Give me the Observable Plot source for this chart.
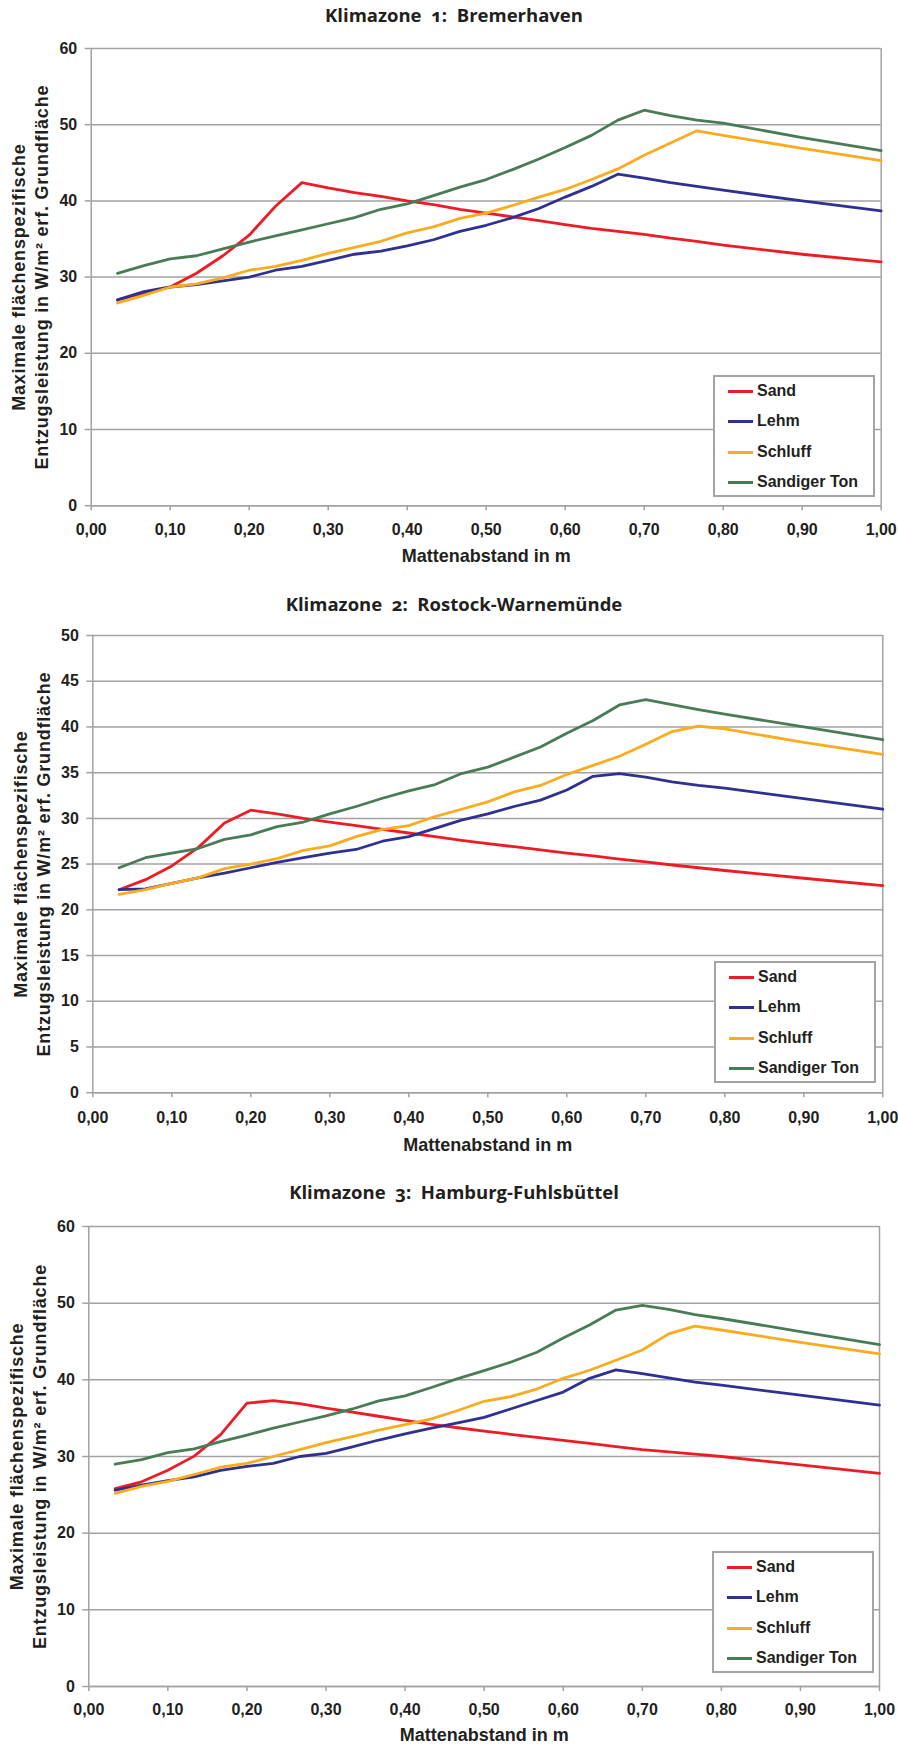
<!DOCTYPE html>
<html>
<head>
<meta charset="utf-8">
<script src="https://cdn.jsdelivr.net/npm/d3@7"></script>
<script src="https://cdn.jsdelivr.net/npm/@observablehq/plot@0.6"></script>
<style>
  body { margin: 0; background: #ffffff; }
  #page { position: relative; width: 898px; height: 1745px; overflow: hidden; font-family: "Liberation Sans", Arial, sans-serif; }
  .title { position: absolute; left: 0; width: 908px; text-align: center; font-family: "Open Sans", sans-serif; font-weight: 700; font-size: 18.5px; line-height: 24px; color: #231f20; white-space: pre; font-variant-numeric: oldstyle-nums; }
  .chart { position: absolute; left: 0; }
  .legend { position: absolute; box-sizing: border-box; width: 162px; height: 122px; border: 2px solid #a4a4a4; background: #ffffff; }
  .legend .row { position: absolute; left: 0; height: 20px; width: 158px; }
  .legend .swatch { position: absolute; left: 13px; top: 9px; width: 25px; height: 3px; }
  .legend .lab { position: absolute; left: 42px; top: 0; line-height: 20px; font-weight: bold; font-size: 16px; color: #231f20; white-space: nowrap; }
</style>
</head>
<body>
<div id="page"></div>
<script>
// ---------- data ----------
const soils = ["Sand", "Lehm", "Schluff", "Sandiger Ton"];
const soilColors = ["#ed1c24", "#2e3192", "#fbab1f", "#4a7b57"];

const xValues = [0.0333, 0.0667, 0.1, 0.1333, 0.1667, 0.2, 0.2333, 0.2667, 0.3, 0.3333, 0.3667, 0.4, 0.4333,
                 0.4667, 0.5, 0.5333, 0.5667, 0.6, 0.6333, 0.6667, 0.7, 0.7333, 0.7667, 0.8, 0.9, 1.0];

const xTicks = [0, 0.1, 0.2, 0.3, 0.4, 0.5, 0.6, 0.7, 0.8, 0.9, 1.0];
const yTicks60 = [0, 10, 20, 30, 40, 50, 60];
const yTicks50 = [0, 5, 10, 15, 20, 25, 30, 35, 40, 45, 50];

const chartTitles = ["Klimazone  1:  Bremerhaven", "Klimazone  2:  Rostock-Warnemünde", "Klimazone  3:  Hamburg-Fuhlsbüttel"];
const xTitle = "Mattenabstand in m";
const yTitleLine1 = "Maximale flächenspezifische";
const yTitleLine2 = "Entzugsleistung in W/m² erf. Grundfläche";

// Klimazone 1: Bremerhaven
const z1Sand    = [27.0, 27.9, 28.7, 30.5, 32.8, 35.5, 39.3, 42.4, 41.7, 41.1, 40.6, 40.0, 39.5, 38.9, 38.4, 37.9, 37.4, 36.9, 36.4, 36.0, 35.6, 35.1, 34.7, 34.2, 33.0, 32.0];
const z1Lehm    = [27.0, 28.1, 28.7, 29.0, 29.5, 30.0, 30.9, 31.4, 32.2, 33.0, 33.4, 34.1, 34.9, 36.0, 36.8, 37.8, 39.0, 40.5, 41.9, 43.5, 43.0, 42.4, 41.9, 41.4, 40.0, 38.7];
const z1Schluff = [26.6, 27.6, 28.7, 29.1, 29.9, 30.9, 31.4, 32.2, 33.1, 33.9, 34.7, 35.8, 36.6, 37.7, 38.4, 39.4, 40.5, 41.5, 42.8, 44.2, 46.0, 47.6, 49.2, 48.6, 46.9, 45.3];
const z1Ton     = [30.5, 31.5, 32.4, 32.8, 33.7, 34.6, 35.4, 36.2, 37.0, 37.8, 38.9, 39.6, 40.7, 41.8, 42.8, 44.1, 45.5, 47.0, 48.6, 50.6, 51.9, 51.2, 50.6, 50.2, 48.3, 46.6];

// Klimazone 2: Rostock-Warnemünde
const z2Sand    = [22.2, 23.3, 24.8, 26.8, 29.5, 30.9, 30.5, 30.0, 29.6, 29.2, 28.8, 28.4, 28.0, 27.6, 27.25, 26.9, 26.55, 26.2, 25.9, 25.55, 25.25, 24.9, 24.6, 24.3, 23.45, 22.65];
const z2Lehm    = [22.2, 22.3, 22.9, 23.5, 24.0, 24.6, 25.2, 25.7, 26.2, 26.6, 27.5, 28.0, 28.9, 29.8, 30.5, 31.3, 32.0, 33.1, 34.6, 34.9, 34.5, 34.0, 33.6, 33.3, 32.15, 31.0];
const z2Schluff = [21.7, 22.2, 22.9, 23.5, 24.5, 25.0, 25.6, 26.5, 27.0, 28.0, 28.8, 29.2, 30.2, 31.0, 31.8, 32.9, 33.6, 34.8, 35.8, 36.8, 38.1, 39.5, 40.1, 39.8, 38.3, 37.0];
const z2Ton     = [24.6, 25.7, 26.2, 26.7, 27.7, 28.2, 29.1, 29.6, 30.5, 31.3, 32.2, 33.0, 33.7, 34.9, 35.6, 36.7, 37.8, 39.3, 40.7, 42.4, 43.0, 42.45, 41.9, 41.4, 40.0, 38.6];

// Klimazone 3: Hamburg-Fuhlsbüttel
const z3Sand    = [25.8, 26.7, 28.2, 30.05, 32.85, 36.95, 37.3, 36.9, 36.3, 35.8, 35.25, 34.7, 34.2, 33.75, 33.3, 32.9, 32.5, 32.1, 31.7, 31.3, 30.9, 30.6, 30.3, 30.0, 28.9, 27.8];
const z3Lehm    = [25.6, 26.25, 26.85, 27.35, 28.2, 28.7, 29.1, 30.0, 30.4, 31.25, 32.15, 32.95, 33.7, 34.4, 35.1, 36.2, 37.3, 38.4, 40.2, 41.3, 40.8, 40.25, 39.7, 39.3, 38.0, 36.7];
const z3Schluff = [25.2, 26.1, 26.75, 27.65, 28.6, 29.1, 30.0, 30.9, 31.8, 32.6, 33.45, 34.15, 34.9, 36.0, 37.2, 37.8, 38.8, 40.2, 41.25, 42.55, 43.9, 46.0, 47.0, 46.5, 44.9, 43.4];
const z3Ton     = [29.0, 29.6, 30.5, 31.0, 31.95, 32.8, 33.7, 34.5, 35.3, 36.2, 37.25, 37.9, 39.0, 40.15, 41.2, 42.3, 43.6, 45.45, 47.15, 49.1, 49.7, 49.2, 48.5, 48.0, 46.3, 44.6];

// ---------- layout (positions / styles only) ----------
const gridColor = "#a2a2a2";
const textColor = "#231f20";
const fmt = d => d.toFixed(2).replace(".", ",");

const charts = [
  {title: chartTitles[0], titleTop: 3, series: [z1Sand, z1Lehm, z1Schluff, z1Ton], yMax: 60, yTicks: yTicks60,
   left: 90.7, right: 880.7, top: 48.3, bottom: 505.5, xPad: 12.5, xTitleDy: 51, legLeft: 713, legTop: 375},
  {title: chartTitles[1], titleTop: 592, series: [z2Sand, z2Lehm, z2Schluff, z2Ton], yMax: 50, yTicks: yTicks50,
   left: 92.3, right: 882.3, top: 635, bottom: 1092.2, xPad: 13.5, xTitleDy: 53, legLeft: 714, legTop: 961},
  {title: chartTitles[2], titleTop: 1180, series: [z3Sand, z3Lehm, z3Schluff, z3Ton], yMax: 60, yTicks: yTicks60,
   left: 88.3, right: 879, top: 1225.7, bottom: 1685.7, xPad: 12, xTitleDy: 49, legLeft: 712, legTop: 1551}
];

const page = document.getElementById("page");

charts.forEach(cfg => {
  const t = document.createElement("div");
  t.className = "title";
  t.style.top = cfg.titleTop + "px";
  t.textContent = cfg.title;
  page.appendChild(t);

  const rows = [];
  cfg.series.forEach((vals, i) => vals.forEach((v, j) => rows.push({x: xValues[j], y: v, soil: soils[i]})));

  const mt = 10, mb = 62;
  const ph = cfg.bottom - cfg.top;
  const svg = Plot.plot({
    width: 898,
    height: mt + ph + mb,
    marginLeft: cfg.left,
    marginRight: 898 - cfg.right,
    marginTop: mt,
    marginBottom: mb,
    style: {fontFamily: "'Liberation Sans', Arial, sans-serif", fontSize: "16px", fontWeight: "bold", background: "transparent", overflow: "visible"},
    x: {domain: [0, 1]},
    y: {domain: [0, cfg.yMax]},
    color: {domain: soils, range: soilColors},
    marks: [
      Plot.gridY({ticks: cfg.yTicks, stroke: gridColor, strokeOpacity: 1, strokeWidth: 1.5}),
      Plot.ruleX([0, 1], {stroke: gridColor, strokeWidth: 1.5}),
      Plot.ruleY([0], {stroke: gridColor, strokeWidth: 1.5}),
      Plot.axisY({ticks: cfg.yTicks, tickSize: 6, tickPadding: 8, stroke: gridColor, strokeWidth: 1.5, fill: textColor, label: null}),
      Plot.axisX({ticks: xTicks, tickFormat: fmt, tickSize: 5, tickPadding: cfg.xPad, stroke: gridColor, strokeWidth: 1.5, fill: textColor, label: null}),
      Plot.line(rows, {x: "x", y: "y", z: "soil", stroke: "soil", strokeWidth: 2.8}),
      Plot.text([xTitle], {frameAnchor: "bottom", dy: cfg.xTitleDy, text: d => d, fontSize: 18, fontWeight: "bold", fill: textColor, lineAnchor: "middle", textAnchor: "middle"}),
      Plot.text([yTitleLine1], {frameAnchor: "left", dx: -71.5, rotate: -90, text: d => d, fontSize: 18, fontWeight: "bold", fill: textColor, lineAnchor: "middle", textAnchor: "middle"}),
      Plot.text([yTitleLine2], {frameAnchor: "left", dx: -48.5, rotate: -90, text: d => d, fontSize: 18, fontWeight: "bold", fill: textColor, lineAnchor: "middle", textAnchor: "middle"})
    ]
  });
  // slight tracking on the vertical axis title, as in the reference
  d3.select(svg).selectAll("text").filter(function() {
    const s = this.textContent;
    return s === yTitleLine1 || s === yTitleLine2;
  }).style("letter-spacing", "0.8px");

  svg.classList.add("chart");
  svg.style.position = "absolute";
  svg.style.left = "0px";
  svg.style.top = (cfg.top - mt) + "px";
  page.appendChild(svg);

  const leg = document.createElement("div");
  leg.className = "legend";
  leg.style.left = cfg.legLeft + "px";
  leg.style.top = cfg.legTop + "px";
  soils.forEach((s, i) => {
    const r = document.createElement("div");
    r.className = "row";
    r.style.top = (3.5 + 30.6 * i) + "px";
    const sw = document.createElement("div");
    sw.className = "swatch";
    sw.style.background = soilColors[i];
    const lb = document.createElement("div");
    lb.className = "lab";
    lb.textContent = s;
    r.appendChild(sw);
    r.appendChild(lb);
    leg.appendChild(r);
  });
  page.appendChild(leg);
});
</script>
</body>
</html>
